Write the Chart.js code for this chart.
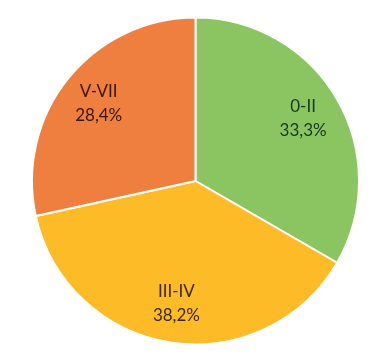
<!DOCTYPE html>
<html>
<head>
<meta charset="utf-8">
<script src="https://cdn.jsdelivr.net/npm/chart.js@4"></script>
<style>
  html, body { margin: 0; padding: 0; background: #fff; }
  #wrap { width: 371px; height: 363px; }
</style>
</head>
<body>
<div id="wrap"><canvas id="pie"></canvas></div>
<script>
const categories = ["0-II", "III-IV", "V-VII"];
const shares = [33.3, 38.2, 28.4];
const shareLabels = ["33,3%", "38,2%", "28,4%"];

const sliceColors = ["#8bc562", "#fdbb28", "#ee7f3f"];
const textColors = ["#17361a", "#3a2806", "#3a1606"];

// draws the two-line label inside each slice
const sliceLabels = {
  id: "sliceLabels",
  afterDatasetsDraw(chart) {
    const { ctx } = chart;
    const meta = chart.getDatasetMeta(0);
    ctx.save();
    ctx.font = "17px Lato, 'Open Sans', sans-serif";
    ctx.textAlign = "center";
    ctx.textBaseline = "middle";
    meta.data.forEach((arc, i) => {
      const p = arc.getProps(["x", "y", "startAngle", "endAngle", "outerRadius"], true);
      const mid = (p.startAngle + p.endAngle) / 2;
      const r = p.outerRadius * 0.76;
      const x = p.x + Math.cos(mid) * r;
      const y = p.y + Math.sin(mid) * r;
      ctx.fillStyle = textColors[i];
      ctx.fillText(categories[i], x, y - 12);
      ctx.fillText(shareLabels[i], x, y + 12);
    });
    ctx.restore();
  }
};

new Chart(document.getElementById("pie"), {
  type: "pie",
  data: {
    labels: categories,
    datasets: [{
      data: shares,
      backgroundColor: sliceColors,
      borderColor: "#ffffff",
      borderWidth: 2
    }]
  },
  options: {
    responsive: true,
    maintainAspectRatio: false,
    animation: false,
    layout: { padding: { left: 31, right: 11, top: 16, bottom: 17 } },
    plugins: {
      legend: { display: false },
      tooltip: { enabled: false }
    }
  },
  plugins: [sliceLabels]
});
</script>
</body>
</html>
